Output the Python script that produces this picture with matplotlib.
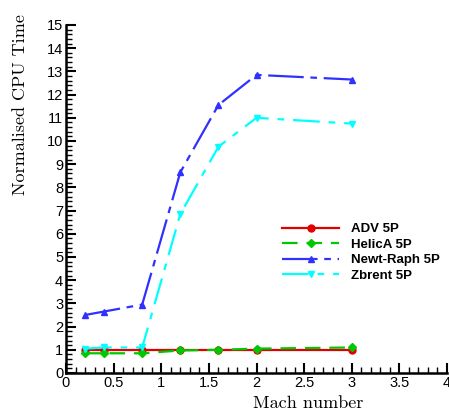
import matplotlib
matplotlib.use('Agg')
import matplotlib.pyplot as plt
from matplotlib.ticker import MultipleLocator

mach = [0.2, 0.4, 0.8, 1.2, 1.6, 2.0, 3.0]
adv = [1.0, 1.0, 1.0, 1.0, 1.0, 1.0, 1.0]
helica = [0.85, 0.85, 0.85, 0.97, 1.0, 1.05, 1.1]
newt = [2.5, 2.65, 2.95, 8.65, 11.55, 12.85, 12.65]
zbrent = [1.05, 1.1, 1.1, 6.85, 9.75, 11.0, 10.75]

plt.rcParams['font.family'] = ['Liberation Sans', 'DejaVu Sans']

fig = plt.figure(figsize=(4.49, 4.16), dpi=100)
ax = fig.add_axes([66/449, 1 - 373/416, 381/449, 348/416])

ax.plot(mach, adv, color='#e00000', lw=1.6, marker='o', ms=5, label='ADV 5P')
ax.plot(mach, helica, color='#00c800', lw=1.6, marker='D', ms=4.5, dashes=(7, 4), label='HelicA 5P')
ax.plot(mach, newt, color='#3030ff', lw=1.6, marker='^', ms=5, dashes=(16, 3, 3, 3), label='Newt-Raph 5P')
ax.plot(mach, zbrent, color='#00ffff', lw=1.6, marker='v', ms=5, dashes=(12, 4, 3, 4), label='Zbrent 5P')

ax.set_xlim(0, 4)
ax.set_ylim(0, 15)
ax.xaxis.set_major_locator(MultipleLocator(0.5))
ax.xaxis.set_minor_locator(MultipleLocator(0.1))
ax.yaxis.set_major_locator(MultipleLocator(1))
ax.yaxis.set_minor_locator(MultipleLocator(0.2))
ax.xaxis.set_major_formatter(plt.FuncFormatter(lambda v, p: ('%g' % v)))

for s in ['top', 'right']:
    ax.spines[s].set_visible(False)
for s in ['left', 'bottom']:
    ax.spines[s].set_linewidth(1.8)
ax.tick_params(which='major', direction='in', length=7, width=1.5, labelsize=10.5, pad=2)
ax.tick_params(which='minor', direction='in', length=4, width=1.0)

ax.set_xlabel('Mach number', fontfamily='cmr10', fontsize=13)
ax.set_ylabel('Normalised CPU Time', fontfamily='cmr10', fontsize=13)
ax.xaxis.set_label_coords(0.635, -0.065)
ax.yaxis.set_label_coords(-0.10, 0.77)

leg = ax.legend(loc='upper left', bbox_to_anchor=(0.55, 0.45), frameon=False,
                prop={'weight': 'bold', 'size': 9.5}, handlelength=4.3,
                labelspacing=0.25, handletextpad=0.9, borderpad=0)

fig.savefig('out.png', dpi=100)
